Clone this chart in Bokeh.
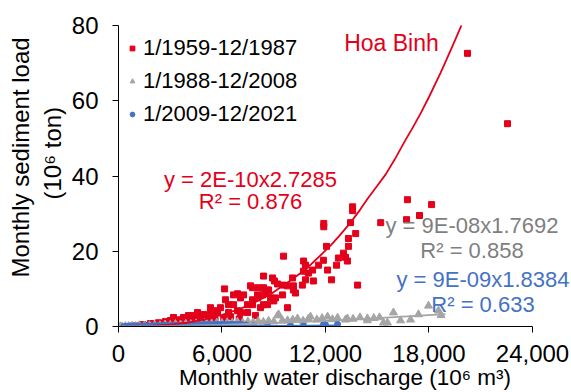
from bokeh.plotting import figure
from bokeh.models import Range1d, Label, Legend, LegendItem, NumeralTickFormatter, FixedTicker, Title
from bokeh.embed import file_html
from bokeh.resources import INLINE

# ---------------- data ----------------
red_x = [700, 1000, 1390, 1600, 1860, 2000, 2320, 2500, 2720, 2900, 3010, 3190, 3300, 3500, 3590,
         3770, 3900, 4060, 4170, 4350, 4400, 4580, 4750, 4800, 4930, 5000, 5200, 5330, 5330, 5510,
         5600, 5620, 5740, 5910, 6100, 6150, 6200, 6380, 6380, 6500, 6670, 6670, 6900, 6900, 7000,
         7070, 7070, 7250, 7480, 7480, 7650, 7770, 7770, 7770, 7940, 8060, 8060, 8120, 8230, 8350,
         8410, 8410, 8410, 8520, 8640, 8640, 8700, 8810, 8930, 9000, 9040, 9100, 9220, 9510, 9570,
         9570, 9800, 9800, 10090, 10140, 10140, 10260, 10660, 10720, 10730, 10840, 10840, 11010, 11250, 11300,
         11600, 11880, 11900, 11900, 12060, 12120, 12350, 12640, 12750, 13040, 13160, 13270, 13330, 13330, 13450,
         13570, 13570, 13750, 13860, 15200, 16700, 16750, 17450, 18150, 20232, 22550]
red_y = [0.1, 0.2, 0.5, 0.3, 0.8, 0.4, 1.0, 0.7, 1.3, 0.6, 1.6, 2.4, 1.2, 0.9, 1.8,
         2.4, 1.0, 2.9, 1.6, 2.9, 1.5, 3.7, 2.1, 1.2, 3.2, 0.8, 2.0, 5.0, 3.4, 2.4,
         1.6, 4.2, 3.7, 5.0, 2.2, 10.0, 7.1, 5.8, 3.7, 2.6, 8.4, 5.8, 8.7, 4.2, 2.0,
         7.6, 3.7, 8.4, 5.8, 3.7, 10.8, 7.1, 10.3, 5.8, 2.9, 7.6, 8.4, 10.3, 5.0, 8.4,
         13.4, 5.8, 10.3, 8.9, 5.8, 9.7, 9.7, 7.6, 12.9, 6.8, 12.1, 7.6, 11.3, 8.4, 11.0,
         18.7, 10.8, 5.0, 12.9, 10.8, 9.7, 8.9, 11.0, 14.7, 17.4, 16.3, 12.4, 14.2, 15.0, 12.1,
         16.3, 17.6, 27.4, 26.5, 21.3, 15.0, 12.4, 16.3, 18.2, 19.5, 18.4, 17.4, 23.4, 21.3, 27.6,
         31.8, 30.8, 24.7, 11.0, 27.6, 28.4, 33.7, 29.5, 32.4, 72.6, 53.9]

gray_x = [100, 200, 400, 600, 800, 1000, 1200, 1500, 1800, 2100, 2400, 2700, 3000, 3300, 3600,
          3900, 4200, 4500, 4800, 5100, 5400, 5700, 6000, 6300, 6600, 6900, 7200, 7500, 7800, 8100,
          8400, 8700, 9000, 9220, 9280, 9500, 9800, 10100, 10380, 10700, 11000, 11130, 11500, 11800, 12120,
          12400, 12700, 13160, 13270, 13600, 14000, 14430, 14430, 14800, 15130, 15360, 15590, 15940, 16350, 16930,
          17390, 17970, 18550, 18700]
gray_y = [0.0, 0.0, 0.1, 0.1, 0.2, 0.1, 0.3, 0.2, 0.3, 0.4, 0.3, 0.5, 0.4, 0.6, 0.5,
          0.7, 0.6, 0.8, 0.7, 0.9, 0.8, 1.0, 0.9, 1.1, 1.0, 1.2, 1.0, 1.3, 1.1, 1.4,
          1.2, 1.5, 1.3, 2.9, 3.2, 1.6, 1.6, 1.8, 2.1, 1.5, 2.0, 2.6, 1.8, 2.2, 2.6,
          1.9, 2.3, 1.8, 2.1, 2.0, 2.4, 2.1, 1.6, 2.2, 2.4, 1.0, 1.0, 3.7, 1.6, 1.8,
          3.2, 5.5, 4.2, 3.0]

blue_x = [300, 500, 700, 900, 1100, 1300, 1500, 1700, 1900, 2100, 2300, 2500, 2700, 2900, 3100,
          3300, 3500, 3700, 3900, 4100, 4300, 4500, 4700, 4900, 5100, 5300, 5500, 5700, 5900, 6100,
          6300, 6500, 6700, 6900, 7100, 7400, 7830, 8640, 9970, 10720, 11880, 12000, 12700]
blue_y = [0.0, 0.05, 0.1, 0.05, 0.1, 0.15, 0.1, 0.2, 0.15, 0.2, 0.25, 0.2, 0.3, 0.25, 0.3,
          0.35, 0.3, 0.4, 0.35, 0.4, 0.45, 0.4, 0.5, 0.45, 0.5, 0.55, 0.5, 0.6, 0.55, 0.6,
          0.5, 0.6, 0.55, 0.5, 0.6, 0.4, 0.2, 0.2, 0.3, 0.2, 0.5, 0.5, 0.6]

# trendlines
red_trend_x = [700, 2000, 3000, 4000, 5000, 6000, 7000, 7650, 8810, 9970, 10500, 11130, 11500, 12290,
               12800, 13450, 14000, 14430, 15000, 15500, 16000, 16640, 17000, 17500, 18000, 18670,
               19000, 19500, 19830, 20300]
red_trend_y = [0.0, 0.2, 0.5, 1.0, 1.9, 3.1, 4.6, 5.8, 8.6, 12.2, 14.0, 16.4, 18.0, 21.5,
               24.1, 27.6, 31.0, 33.9, 37.4, 40.5, 44.3, 49.6, 52.4, 56.5, 61.0, 67.4,
               70.8, 76.0, 79.5, 85.0]
gray_trend_x = [200, 3000, 6000, 9000, 12000, 15000, 18950]
gray_trend_y = [0.0, 0.13, 0.44, 0.89, 1.48, 2.2, 3.3]
blue_trend_x = [300, 3000, 6000, 9000, 12700]
blue_trend_y = [0.0, 0.02, 0.08, 0.17, 0.32]

x_ticks = [0, 6000, 12000, 18000, 24000]
y_ticks = [0, 20, 40, 60, 80]

series_labels = ["1/1959-12/1987", "1/1988-12/2008", "1/2009-12/2021"]
y_label_lines = ["Monthly sediment load", "(10\u2076 ton)"]
x_label = "Monthly water discharge (10\u2076 m\u00b3)"
eq_red = ["y = 2E-10x2.7285", "R\u00b2 = 0.876"]
eq_gray = ["y = 9E-08x1.7692", "R\u00b2 = 0.858"]
eq_blue = ["y = 9E-09x1.8384", "R\u00b2 = 0.633"]

RED = "#E3001B"
GRAY = "#A5A5A5"
BLUE = "#4472C4"
GRAY_TXT = "#7F7F7F"
FONT = "Liberation Sans"

# frame: x 118..571 px (0..24000 occupies 118..532), y 25..329 px
p = figure(width=571, height=392, output_backend="svg", toolbar_location=None,
           x_range=Range1d(0, 26261), y_range=Range1d(0, 80),
           min_border_left=118, min_border_right=0, min_border_top=25, min_border_bottom=63)
p.outline_line_color = None
p.grid.visible = False
p.background_fill_color = "white"
p.border_fill_color = "white"

for ax in (p.xaxis[0], p.yaxis[0]):
    ax.axis_line_color = "black"
    ax.major_tick_line_color = "black"
    ax.minor_tick_line_color = None
    ax.major_tick_in = 0
    ax.major_tick_out = 6
    ax.major_label_text_font = FONT
    ax.major_label_text_font_size = "24px"
    ax.major_label_text_color = "black"
    ax.axis_label_text_font = FONT
    ax.axis_label_text_font_style = "normal"
    ax.axis_label_text_color = "black"

p.xaxis.bounds = (0, 24000)
p.xaxis.ticker = FixedTicker(ticks=x_ticks)
p.yaxis.ticker = FixedTicker(ticks=y_ticks)
p.xaxis.formatter = NumeralTickFormatter(format="0,0")
p.xaxis.major_label_standoff = 12
p.yaxis.major_label_standoff = 14
p.xaxis.axis_label = x_label
p.xaxis.axis_label_text_font_size = "22.5px"
p.xaxis.axis_label_standoff = 0

# two-line y-axis title, each line centred like the reference
t_units = Title(text=y_label_lines[1], align="left", offset=127, standoff=6,
                text_font=FONT, text_font_size="24px", text_font_style="normal", text_color="black")
t_main = Title(text=y_label_lines[0], align="left", offset=49, standoff=0,
               text_font=FONT, text_font_size="24px", text_font_style="normal", text_color="black")
p.add_layout(t_units, "left")
p.add_layout(t_main, "left")

r_red = p.scatter(red_x, red_y, marker="square", size=6, color=RED)
r_gray = p.scatter(gray_x, gray_y, marker="triangle", size=8, color=GRAY)
r_blue = p.scatter(blue_x, blue_y, marker="circle", size=6, color=BLUE)

p.line(red_trend_x, red_trend_y, line_color=RED, line_width=1.8)
p.line(gray_trend_x, gray_trend_y, line_color=GRAY, line_width=1.8)
p.line(blue_trend_x, blue_trend_y, line_color=BLUE, line_width=1.8)

legend = Legend(items=[LegendItem(label=series_labels[0], renderers=[r_red]),
                       LegendItem(label=series_labels[1], renderers=[r_gray]),
                       LegendItem(label=series_labels[2], renderers=[r_blue])],
                location="top_left")
legend.border_line_color = None
legend.background_fill_alpha = 0
legend.label_text_font = FONT
legend.label_text_font_size = "22px"
legend.label_text_color = "black"
legend.glyph_width = 12
legend.glyph_height = 12
legend.label_height = 30
legend.spacing = 3
legend.padding = 8
legend.margin = 8
legend.label_standoff = 5
p.add_layout(legend)

def add_label(x, y, text, color, size):
    p.add_layout(Label(x=x, y=y, text=text, text_color=color, text_font=FONT,
                       text_font_size=size, text_align="center", text_baseline="middle"))

add_label(15826, 75.3, "Hoa Binh", RED, "23px")
add_label(7652, 39.0, eq_red[0], RED, "22px")
add_label(7652, 33.2, eq_red[1], RED, "22px")
add_label(20493, 26.8, eq_gray[0], GRAY_TXT, "22px")
add_label(20493, 20.3, eq_gray[1], GRAY_TXT, "22px")
add_label(21130, 12.4, eq_blue[0], BLUE, "22px")
add_label(21130, 5.8, eq_blue[1], BLUE, "22px")

open("out.html", "w").write(file_html(p, INLINE))
